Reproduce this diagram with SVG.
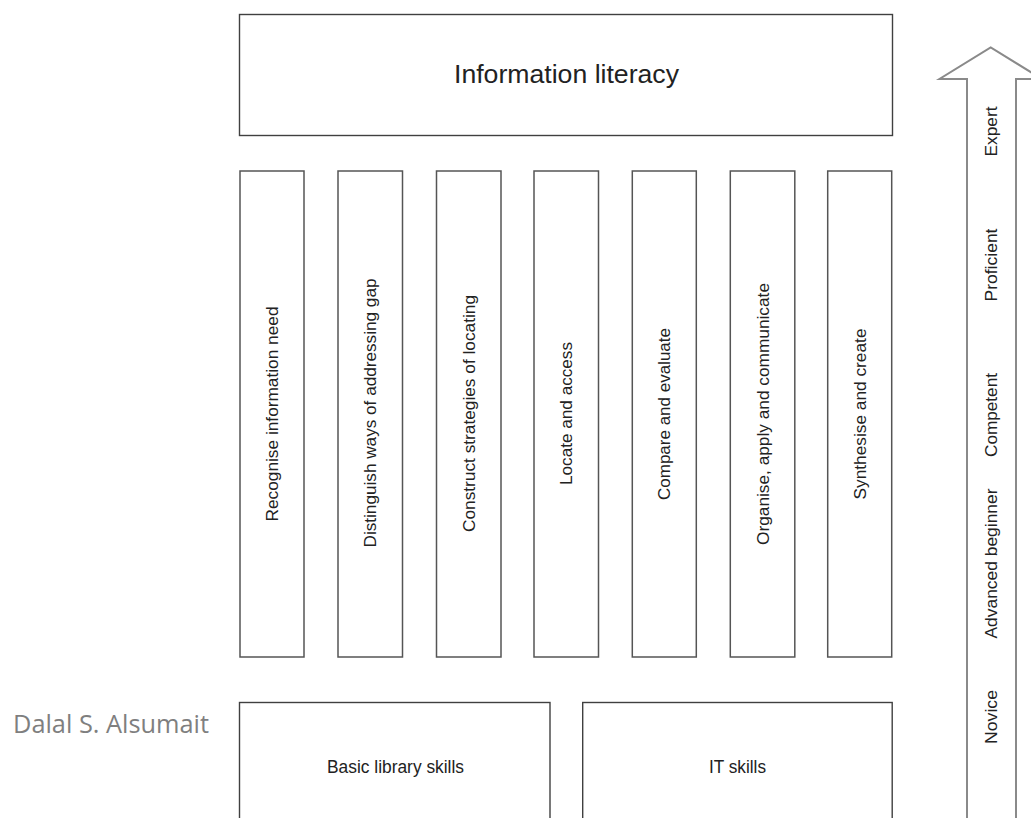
<svg xmlns="http://www.w3.org/2000/svg" width="1031" height="818" viewBox="0 0 1031 818">
  <style>
    .box { fill: #ffffff; stroke: #404040; stroke-width: 1.4; }
    .col { fill: #ffffff; stroke: #555555; stroke-width: 1.5; }
    .lbl { font-family: "Liberation Sans", Arial, sans-serif; fill: #222222; }
    .vlbl { font-family: "Liberation Sans", Arial, sans-serif; font-size: 17px; fill: #222222; text-anchor: middle; }
    .level { font-family: "Liberation Sans", Arial, sans-serif; font-size: 17px; fill: #222222; text-anchor: middle; }
    .author { font-family: "Open Sans", "Noto Sans", sans-serif; font-size: 25px; fill: #7f7f7f; }
  </style>

  <rect width="1031" height="818" fill="#ffffff"/>

  <!-- progression arrow on the right -->
  <g id="levels-arrow">
    <polygon points="967,830 967,79 939.5,79 990.7,47.5 1042,79 1016,79 1016,830"
             fill="#ffffff" stroke="#8a8a8a" stroke-width="2" stroke-linejoin="miter"/>
    <text class="level" transform="translate(996.5,131.5) rotate(-90)" textLength="50" lengthAdjust="spacingAndGlyphs">Expert</text>
    <text class="level" transform="translate(996.5,265) rotate(-90)" textLength="73" lengthAdjust="spacingAndGlyphs">Proficient</text>
    <text class="level" transform="translate(996.5,415) rotate(-90)" textLength="84" lengthAdjust="spacingAndGlyphs">Competent</text>
    <text class="level" transform="translate(996.5,563.5) rotate(-90)" textLength="150" lengthAdjust="spacingAndGlyphs">Advanced beginner</text>
    <text class="level" transform="translate(996.5,717) rotate(-90)" textLength="54" lengthAdjust="spacingAndGlyphs">Novice</text>
  </g>

  <!-- top box -->
  <g id="information-literacy">
    <rect class="box" x="239.5" y="14.5" width="653" height="121"/>
    <text class="lbl" x="566.5" y="83.3" font-size="26" text-anchor="middle" textLength="225" lengthAdjust="spacingAndGlyphs">Information literacy</text>
  </g>

  <!-- seven pillars -->
  <g id="recognise">
    <rect class="col" x="240" y="171" width="64" height="486"/>
    <text class="vlbl" transform="translate(278,414) rotate(-90)" textLength="215" lengthAdjust="spacingAndGlyphs">Recognise information need</text>
  </g>
  <g id="distinguish">
    <rect class="col" x="338" y="171" width="64.5" height="486"/>
    <text class="vlbl" transform="translate(376,413) rotate(-90)" textLength="269" lengthAdjust="spacingAndGlyphs">Distinguish ways of addressing gap</text>
  </g>
  <g id="construct">
    <rect class="col" x="436.5" y="171" width="64.5" height="486"/>
    <text class="vlbl" transform="translate(474.5,413.5) rotate(-90)" textLength="237" lengthAdjust="spacingAndGlyphs">Construct strategies of locating</text>
  </g>
  <g id="locate">
    <rect class="col" x="534" y="171" width="64.5" height="486"/>
    <text class="vlbl" transform="translate(572,413.5) rotate(-90)" textLength="143" lengthAdjust="spacingAndGlyphs">Locate and access</text>
  </g>
  <g id="compare">
    <rect class="col" x="632.3" y="171" width="64" height="486"/>
    <text class="vlbl" transform="translate(670.3,414) rotate(-90)" textLength="172" lengthAdjust="spacingAndGlyphs">Compare and evaluate</text>
  </g>
  <g id="organise">
    <rect class="col" x="730.3" y="171" width="64.5" height="486"/>
    <text class="vlbl" transform="translate(768.5,414) rotate(-90)" textLength="262" lengthAdjust="spacingAndGlyphs">Organise, apply and communicate</text>
  </g>
  <g id="synthesise">
    <rect class="col" x="827.7" y="171" width="64" height="486"/>
    <text class="vlbl" transform="translate(865.7,414) rotate(-90)" textLength="171" lengthAdjust="spacingAndGlyphs">Synthesise and create</text>
  </g>

  <!-- foundation boxes -->
  <g id="basic-library-skills">
    <rect class="box" x="239.5" y="702.5" width="310.5" height="130"/>
    <text class="lbl" x="395.5" y="773.3" font-size="17.5" text-anchor="middle" textLength="137" lengthAdjust="spacingAndGlyphs">Basic library skills</text>
  </g>
  <g id="it-skills">
    <rect class="box" x="582.7" y="702.5" width="309.5" height="130"/>
    <text class="lbl" x="737.5" y="773.3" font-size="17.5" text-anchor="middle" textLength="57" lengthAdjust="spacingAndGlyphs">IT skills</text>
  </g>

  <!-- author credit -->
  <text class="author" x="13" y="732.5" textLength="196" lengthAdjust="spacingAndGlyphs">Dalal S. Alsumait</text>

  <!-- no connectors in this figure -->
  <g id="connectors"/>
</svg>
